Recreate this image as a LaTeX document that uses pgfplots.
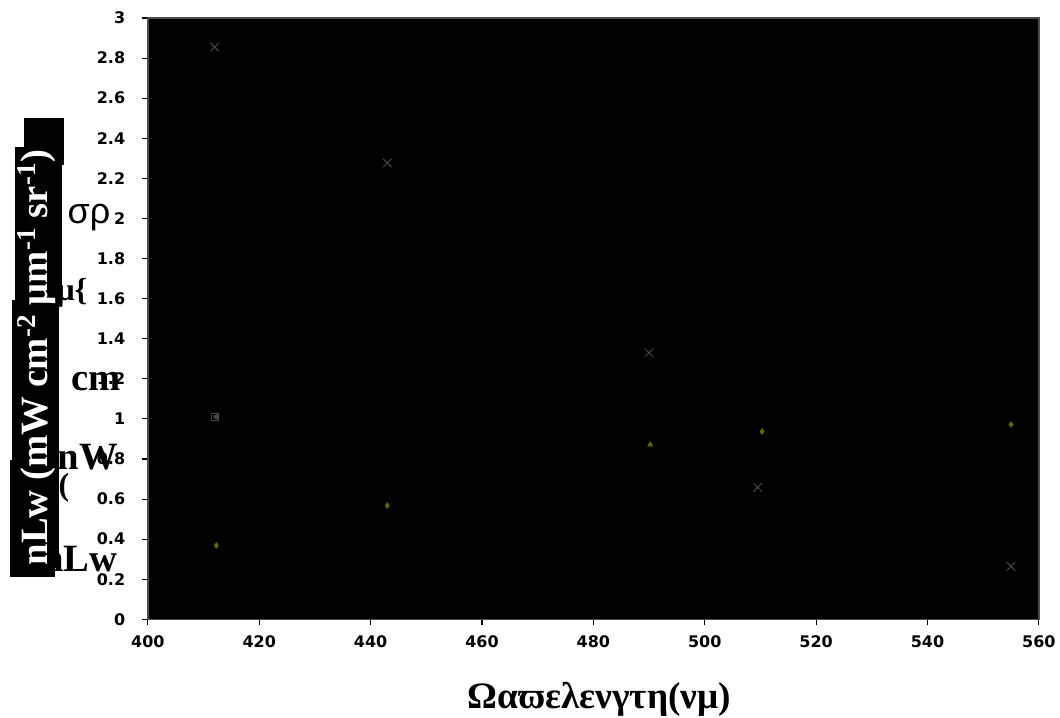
\documentclass[border=0pt]{standalone}
\usepackage{fontspec}
\setmainfont{Liberation Serif}
\newfontfamily\tickfont{DejaVu Sans}
\newfontfamily\greeksans{Liberation Sans}
\usepackage{pgfplots}
\pgfplotsset{compat=1.18}
\definecolor{mkgray}{RGB}{72,72,72}
\definecolor{mkolive}{RGB}{100,100,10}
\begin{document}
\begin{tikzpicture}
\begin{scope}[x=0.75pt,y=-0.75pt,shift={(-111pt,465pt)}]
\path[use as bounding box] (0,0) rectangle (1060,718);
% stray horizontal label fragments
\node[font=\greeksans\fontsize{27}{29}\selectfont] at (89,218) {σρ};
\node[font=\bfseries\fontsize{24}{26}\selectfont] at (72,293) {μ\{};
\node[font=\bfseries\fontsize{29}{31}\selectfont] at (96,382) {cm};
\node[font=\bfseries\fontsize{29}{31}\selectfont] at (88,458) {nW};
\node[font=\bfseries\fontsize{24}{26}\selectfont] at (64,488) {(};
\node[font=\bfseries\fontsize{29}{31}\selectfont] at (80,560) {nLw};
% rotated boxed label
\fill[black] (24,118) rectangle (64,165);
\fill[black] (16,165) rectangle (62,300);
\fill[black] (12,300) rectangle (58,460);
\fill[black] (10,460) rectangle (55,578);
\node[fill=black,text=white,rotate=90,inner sep=2pt,font=\bfseries\fontsize{29}{31}\selectfont] at (37,358) {nLw (mW cm\textsuperscript{-2} μm\textsuperscript{-1} sr\textsuperscript{-1})};
% x label
\node[font=\bfseries\fontsize{28}{30}\selectfont] at (600,700) {Ωαϖελενγτη(νμ)};
\end{scope}
\begin{axis}[
  scale only axis, width=669pt, height=451.5pt,
  xmin=400, xmax=560, ymin=0, ymax=3,
  xtick={400,420,440,460,480,500,520,540,560},
  ytick={0,0.2,0.4,0.6,0.8,1,1.2,1.4,1.6,1.8,2,2.2,2.4,2.6,2.8,3},
  yticklabels={0,0.2,0.4,0.6,0.8,1,1.2,1.4,1.6,1.8,2,2.2,2.4,2.6,2.8,3},
  axis background/.style={fill=black},
  axis line style={draw=gray!60!black, line width=1pt},
  tick pos=left, tick align=outside, major tick length=4.5pt,
  tick style={black, line width=0.8pt},
  ticklabel style={font=\tickfont\bfseries\fontsize{12}{14}\selectfont},
  /pgf/number format/assume math mode=true,
  xticklabel style={yshift=-4pt},
  yticklabel style={xshift=-9pt},
  clip=false,
]
\addplot[only marks, mark=x, mark size=4.5pt, mkgray, line width=0.7pt] coordinates {
  (412,2.855) (443,2.277) (490,1.33) (509.5,0.658) (555,0.264)};
\addplot[only marks, mark=square, mark size=2.5pt, mkgray, line width=0.8pt] coordinates {
  (412,1.01)};
\addplot[only marks, mark=*, mark size=1.5pt, mkgray] coordinates {
  (412.2,1.01)};
\addplot[only marks, mark=diamond*, mark size=2.2pt, mkolive] coordinates {
  (412.3,0.369) (443,0.568) (510.3,0.937) (555,0.972)};
\addplot[only marks, mark=triangle*, mark size=2.2pt, mkolive] coordinates {
  (490.2,0.872)};
\end{axis}
\end{tikzpicture}
\end{document}
